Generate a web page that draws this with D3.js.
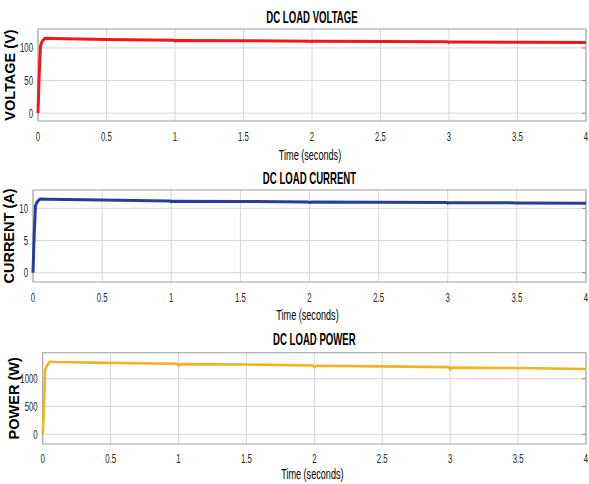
<!DOCTYPE html>
<html>
<head>
<meta charset="utf-8">
<script src="https://cdn.jsdelivr.net/npm/d3@7"></script>
<style>
  html, body { margin: 0; padding: 0; background: #fff; }
  svg { display: block; }
  .tick-label { font-family: "Liberation Sans", Arial, sans-serif; font-size: 13px; fill: #262626; }
  .title { font-family: "Liberation Sans", Arial, sans-serif; font-size: 16px; font-weight: bold; fill: #000; }
  .xlabel { font-family: "Liberation Sans", Arial, sans-serif; font-size: 14px; fill: #000; }
  .ylabel { font-family: "Liberation Sans", Arial, sans-serif; font-size: 14.5px; font-weight: bold; fill: #000; }
</style>
</head>
<body>
<svg id="chart" width="589" height="484"></svg>
<script>
// Simulation time samples (s)
const timeS = [0, 0.008, 0.018, 0.03, 0.05, 0.1, 0.5, 0.99, 1.0, 1.01, 1.5, 1.99, 2.0, 2.01, 2.5, 2.99, 3.0, 3.01, 3.5, 4.0];
// DC load voltage (V)
const voltage = [0, 55, 103, 110, 115, 114.6, 113, 111.6, 110.6, 111.4, 111, 110.4, 109.6, 110.3, 109.8, 109.3, 108.4, 109.2, 108.8, 108.3];
// DC load current (A)
const current = [0, 5.5, 10.4, 11.0, 11.45, 11.42, 11.3, 11.16, 11.02, 11.12, 11.08, 11.0, 10.9, 10.98, 10.95, 10.9, 10.8, 10.88, 10.85, 10.8];
// DC load power (W)
const power = [0, 400, 1150, 1230, 1305, 1300, 1285, 1268, 1235, 1262, 1255, 1238, 1205, 1232, 1222, 1208, 1165, 1200, 1192, 1175];

// Axis ticks and labels
const xTicks = [0, 0.5, 1, 1.5, 2, 2.5, 3, 3.5, 4];
const voltageTicks = [0, 50, 100];
const currentTicks = [0, 5, 10];
const powerTicks = [0, 500, 1000];
const titles = ["DC LOAD VOLTAGE", "DC LOAD CURRENT", "DC LOAD POWER"];
const yLabels = ["VOLTAGE (V)", "CURRENT (A)", "POWER (W)"];
const xLabel = "Time (seconds)";

// horizontal squeeze per text role, for a condensed typeface look
const SQUEEZE = { tick: 0.6, title: 0.6, xlabel: 0.65 };

const panels = [
  { values: voltage, ticks: voltageTicks, title: titles[0], ylabel: yLabels[0], color: "#f41616", width: 3,
    yDomain: [-12, 129], box: { left: 38, right: 586, top: 29, bottom: 121 }, ylabX: 15, titleY: 23, tickY: 141, xlabY: 160 },
  { values: current, ticks: currentTicks, title: titles[1], ylabel: yLabels[1], color: "#2a3d9c", width: 3,
    yDomain: [-1.44, 12.85], box: { left: 33, right: 586, top: 190, bottom: 282 }, ylabX: 14, titleY: 184, tickY: 302, xlabY: 320 },
  { values: power, ticks: powerTicks, title: titles[2], ylabel: yLabels[2], color: "#efb325", width: 2.6,
    yDomain: [-174, 1468], box: { left: 42.7, right: 586, top: 352.7, bottom: 444 }, ylabX: 19, titleY: 345, tickY: 463, xlabY: 479 }
];

const svg = d3.select("#chart");

// place condensed text at (x, y)
function narrowText(sel, x, y, s) {
  return sel.attr("transform", (d, i) => {
    const xx = typeof x === "function" ? x(d, i) : x;
    const yy = typeof y === "function" ? y(d, i) : y;
    return `translate(${xx},${yy}) scale(${s},1)`;
  });
}

panels.forEach(p => {
  const b = p.box;
  const x = d3.scaleLinear().domain([0, 4]).range([b.left, b.right]);
  const y = d3.scaleLinear().domain(p.yDomain).range([b.bottom, b.top]);
  const g = svg.append("g");

  // grid
  g.append("g").selectAll("line").data(xTicks).join("line")
    .attr("x1", d => x(d)).attr("x2", d => x(d))
    .attr("y1", b.top).attr("y2", b.bottom)
    .attr("stroke", "#d6d6d6").attr("stroke-width", 1);
  g.append("g").selectAll("line").data(p.ticks).join("line")
    .attr("x1", b.left).attr("x2", b.right)
    .attr("y1", d => y(d)).attr("y2", d => y(d))
    .attr("stroke", "#d6d6d6").attr("stroke-width", 1);

  // inward ticks on the right edge
  g.append("g").selectAll("line").data(p.ticks).join("line")
    .attr("x1", b.right - 4).attr("x2", b.right)
    .attr("y1", d => y(d)).attr("y2", d => y(d))
    .attr("stroke", "#8a8a8a").attr("stroke-width", 1);

  // frame
  g.append("rect")
    .attr("x", b.left).attr("y", b.top)
    .attr("width", b.right - b.left).attr("height", b.bottom - b.top)
    .attr("fill", "none").attr("stroke", "#a0a0a0").attr("stroke-width", 1);

  // tick labels
  narrowText(g.append("g").selectAll("text").data(xTicks).join("text")
    .attr("class", "tick-label")
    .attr("text-anchor", "middle")
    .text(d => d3.format("~g")(d)), d => x(d), p.tickY, SQUEEZE.tick);
  narrowText(g.append("g").selectAll("text").data(p.ticks).join("text")
    .attr("class", "tick-label")
    .attr("text-anchor", "end")
    .text(d => d), b.left - 5, d => y(d) + 4.5, SQUEEZE.tick);

  // series
  const line = d3.line().x((d, i) => x(timeS[i])).y(d => y(d));
  g.append("path")
    .datum(p.values)
    .attr("d", line)
    .attr("fill", "none")
    .attr("stroke", p.color)
    .attr("stroke-width", p.width)
    .attr("stroke-linejoin", "round");

  // titles and labels
  narrowText(g.append("text").attr("class", "title")
    .attr("text-anchor", "middle").text(p.title), (b.left + b.right) / 2, p.titleY, SQUEEZE.title);
  narrowText(g.append("text").attr("class", "xlabel")
    .attr("text-anchor", "middle").text(xLabel), (b.left + b.right) / 2 - 2, p.xlabY, SQUEEZE.xlabel);
  g.append("text").attr("class", "ylabel")
    .attr("transform", `translate(${p.ylabX},${(b.top + b.bottom) / 2}) rotate(-90)`)
    .attr("text-anchor", "middle").text(p.ylabel);
});
</script>
</body>
</html>
